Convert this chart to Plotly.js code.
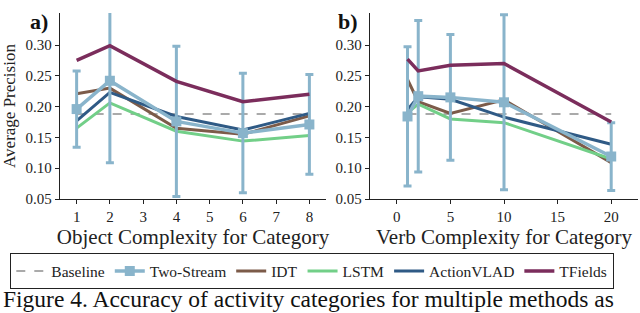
<!DOCTYPE html>
<html>
<head>
<meta charset="utf-8">
<script src="https://cdn.plot.ly/plotly-3.0.1.min.js"></script>
<style>html,body{margin:0;padding:0;background:#fff;}#chart{width:640px;height:313px;}</style>
</head>
<body>
<div id="chart"></div>
<script>
// ---- data ----
const objX = [1, 2, 4, 6, 8];
const verbX = [1, 2, 5, 10, 20];
const baselineValue = 0.188;
const objBaselineX = [1, 8];
const verbBaselineX = [1, 20];

const objTwoStream = [0.196, 0.242, 0.176, 0.157, 0.171];
const objTwoStreamErr = [0.062, 0.133, 0.122, 0.097, 0.081];
const objIDT = [0.221, 0.230, 0.165, 0.155, 0.185];
const objLSTM = [0.165, 0.206, 0.160, 0.144, 0.153];
const objActionVLAD = [0.177, 0.223, 0.184, 0.162, 0.189];
const objTFields = [0.275, 0.299, 0.241, 0.208, 0.220];

const verbTwoStream = [0.184, 0.217, 0.215, 0.207, 0.119];
const verbTwoStreamErr = [0.113, 0.123, 0.102, 0.142, 0.055];
const verbIDT = [0.244, 0.208, 0.189, 0.211, 0.109];
const verbLSTM = [0.190, 0.204, 0.180, 0.174, 0.115];
const verbActionVLAD = [0.195, 0.216, 0.212, 0.183, 0.139];
const verbTFields = [0.277, 0.258, 0.267, 0.270, 0.175];

const yTicks = [0.05, 0.10, 0.15, 0.20, 0.25, 0.30];
const yTickText = ['0.05', '0.10', '0.15', '0.20', '0.25', '0.30'];
const objTicks = [1, 2, 3, 4, 5, 6, 7, 8];
const verbTicks = [0, 5, 10, 15, 20];

// ---- styles ----
const C = {
  base: '#aaaaaa', two: '#89b4cb', idt: '#7c5b49', lstm: '#72cf88',
  vlad: '#2f5a85', tf: '#7b2d5c'
};
const FONT = 'Liberation Serif, DejaVu Serif, serif';

function panel(x, bx, two, twoErr, idt, lstm, vlad, tf, xa, ya, show) {
  const sfx = {xaxis: xa, yaxis: ya};
  return [
    Object.assign({x: bx, y: bx.map(() => baselineValue), mode: 'lines', name: 'Baseline',
      line: {color: C.base, width: 2, dash: 'dash'}, showlegend: show, legendrank: 1}, sfx),
    Object.assign({x: x, y: idt, mode: 'lines', name: 'IDT',
      line: {color: C.idt, width: 3}, showlegend: show, legendrank: 3}, sfx),
    Object.assign({x: x, y: lstm, mode: 'lines', name: 'LSTM',
      line: {color: C.lstm, width: 3}, showlegend: show, legendrank: 4}, sfx),
    Object.assign({x: x, y: vlad, mode: 'lines', name: 'ActionVLAD',
      line: {color: C.vlad, width: 3}, showlegend: show, legendrank: 5}, sfx),
    Object.assign({x: x, y: two, mode: 'lines+markers', name: 'Two-Stream',
      line: {color: C.two, width: 3.5}, marker: {symbol: 'square', size: 10, color: C.two},
      error_y: {type: 'data', array: twoErr, visible: true, color: C.two, thickness: 3, width: 4},
      cliponaxis: false, showlegend: show, legendrank: 2}, sfx),
    Object.assign({x: x, y: tf, mode: 'lines', name: 'TFields',
      line: {color: C.tf, width: 3.5}, showlegend: show, legendrank: 6}, sfx)
  ];
}

const data = [].concat(
  panel(objX, objBaselineX, objTwoStream, objTwoStreamErr, objIDT, objLSTM, objActionVLAD, objTFields, 'x', 'y', true),
  panel(verbX, verbBaselineX, verbTwoStream, verbTwoStreamErr, verbIDT, verbLSTM, verbActionVLAD, verbTFields, 'x2', 'y2', false)
);

const W = 640, H = 313;
const yTop = 1 - 13 / H, yBot = 1 - 199 / H;
const axCommon = {
  showgrid: false, zeroline: false, showline: true, linecolor: '#222', linewidth: 1.3,
  ticks: 'outside', ticklen: 4, tickwidth: 1, tickcolor: '#222',
  tickfont: {family: FONT, size: 15, color: '#222'}
};
const layout = {
  width: W, height: H,
  margin: {l: 0, r: 0, t: 0, b: 0},
  paper_bgcolor: '#fff', plot_bgcolor: '#fff',
  font: {family: FONT, color: '#222'},
  showlegend: true,
  xaxis: Object.assign({}, axCommon, {domain: [60 / W, 326 / W], range: [0.5, 8.5],
    tickvals: objTicks, anchor: 'y',
    title: {text: 'Object Complexity for Category', font: {family: FONT, size: 21, color: '#222'}, standoff: 2}}),
  yaxis: Object.assign({}, axCommon, {domain: [yBot, yTop], range: [0.05, 0.352],
    tickvals: yTicks, ticktext: yTickText, anchor: 'x',
    title: {text: 'Average Precision', font: {family: FONT, size: 17, color: '#222'}, standoff: 6}}),
  xaxis2: Object.assign({}, axCommon, {domain: [370 / W, 638 / W], range: [-2.5, 22.5],
    tickvals: verbTicks, anchor: 'y2',
    title: {text: 'Verb Complexity for Category', font: {family: FONT, size: 21, color: '#222'}, standoff: 2}}),
  yaxis2: Object.assign({}, axCommon, {domain: [yBot, yTop], range: [0.05, 0.352],
    tickvals: yTicks, ticktext: yTickText, anchor: 'x2'}),
  legend: {orientation: 'h', x: 10 / W, xanchor: 'left', y: 1 - 253 / H, yanchor: 'top',
    bordercolor: '#222', borderwidth: 1.3, bgcolor: '#fff',
    font: {family: FONT, size: 15.5, color: '#222'}, traceorder: 'normal'},
  annotations: [
    {text: '<b>a)</b>', xref: 'paper', yref: 'paper', x: 28 / W, y: 1 - 7 / H, xanchor: 'left', yanchor: 'top',
      showarrow: false, font: {family: FONT, size: 22, color: '#111'}},
    {text: '<b>b)</b>', xref: 'paper', yref: 'paper', x: 336 / W, y: 1 - 7 / H, xanchor: 'left', yanchor: 'top',
      showarrow: false, font: {family: FONT, size: 22, color: '#111'}},
    {text: 'Figure 4. Accuracy of activity categories for multiple methods as', xref: 'paper', yref: 'paper',
      x: 2 / W, y: 0, xanchor: 'left', yanchor: 'bottom', showarrow: false, borderpad: 0,
      font: {family: FONT, size: 23.5, color: '#111'}}
  ]
};

Plotly.newPlot('chart', data, layout, {displayModeBar: false, staticPlot: true});
</script>
</body>
</html>
